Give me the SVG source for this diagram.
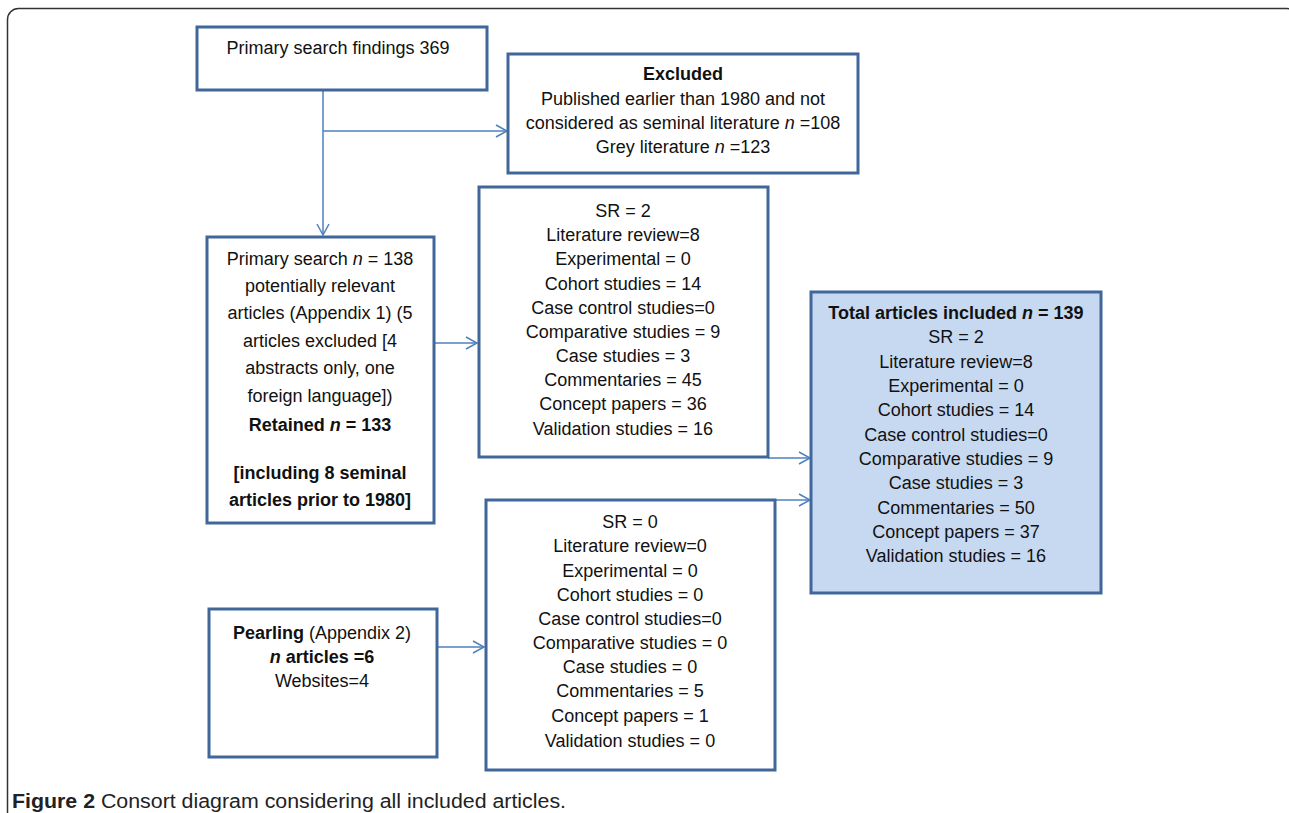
<svg xmlns="http://www.w3.org/2000/svg" width="1289" height="813" viewBox="0 0 1289 813">
<style>
.box{fill:#ffffff;stroke:#41679a;stroke-width:3}
.tot{fill:#c6d9f1;stroke:#41679a;stroke-width:3}
.t{font-family:"Liberation Sans",Arial,sans-serif;font-size:18px;fill:#111;text-anchor:middle}
.b{font-weight:bold}
.i{font-style:italic}
.con{fill:none;stroke:#4f81bd;stroke-width:1.5}
.cap{font-family:"Liberation Sans",Arial,sans-serif;font-size:20px;fill:#222}
</style>
<defs>
<marker id="arr" markerWidth="14" markerHeight="14" refX="12" refY="7" orient="auto" markerUnits="userSpaceOnUse">
<path d="M1,1 L12,7 L1,13" fill="none" stroke="#4f81bd" stroke-width="1.5"/>
</marker>
</defs>
<rect x="7.5" y="8.5" width="1290" height="830" rx="11" fill="#fff" stroke="#333" stroke-width="1.5"/>
<g id="connectors">
<path class="con" d="M323,90 V235" marker-end="url(#arr)"/>
<path class="con" d="M323,131 H507" marker-end="url(#arr)"/>
<path class="con" d="M430,343 H477" marker-end="url(#arr)"/>
<path class="con" d="M768,458 H810" marker-end="url(#arr)"/>
<path class="con" d="M775,500 H810" marker-end="url(#arr)"/>
<path class="con" d="M437,647 H484" marker-end="url(#arr)"/>
</g>
<g id="n-findings">
<rect class="box" x="197" y="27" width="290" height="63"/>
<text class="t" x="338" y="53.5">Primary search findings 369</text>
</g>
<g id="n-excluded">
<rect class="box" x="508" y="54" width="350" height="119"/>
<text class="t b" x="683" y="79.5">Excluded</text>
<text class="t" x="683" y="104.5">Published earlier than 1980 and not</text>
<text class="t" x="683" y="128.5">considered as seminal literature <tspan class="i">n</tspan> =108</text>
<text class="t" x="683" y="152.5">Grey literature <tspan class="i">n</tspan> =123</text>
</g>
<g id="n-primary">
<rect class="box" x="207" y="237" width="227" height="286"/>
<text class="t" x="320" y="264.5">Primary search <tspan class="i">n</tspan> = 138</text>
<text class="t" x="320" y="291.5">potentially relevant</text>
<text class="t" x="320" y="318.5">articles (Appendix 1) (5</text>
<text class="t" x="320" y="346.5">articles excluded [4</text>
<text class="t" x="320" y="373.5">abstracts only, one</text>
<text class="t" x="320" y="401.5">foreign language])</text>
<text class="t b" x="320" y="430.5">Retained <tspan class="i">n</tspan> = 133</text>
<text class="t b" x="320" y="478.5">[including 8 seminal</text>
<text class="t b" x="320" y="505.5">articles prior to 1980]</text>
</g>
<g id="n-sr2">
<rect class="box" x="479" y="187" width="289" height="270"/>
<text class="t" x="623" y="216.5">SR = 2</text>
<text class="t" x="623" y="240.5">Literature review=8</text>
<text class="t" x="623" y="264.5">Experimental = 0</text>
<text class="t" x="623" y="289.5">Cohort studies = 14</text>
<text class="t" x="623" y="313.5">Case control studies=0</text>
<text class="t" x="623" y="337.5">Comparative studies = 9</text>
<text class="t" x="623" y="361.5">Case studies = 3</text>
<text class="t" x="623" y="385.5">Commentaries = 45</text>
<text class="t" x="623" y="409.5">Concept papers = 36</text>
<text class="t" x="623" y="434.5">Validation studies = 16</text>
</g>
<g id="n-total">
<rect class="tot" x="811" y="292" width="290" height="301"/>
<text class="t b" x="956" y="318.5">Total articles included <tspan class="i">n</tspan> = 139</text>
<text class="t" x="956" y="342.5">SR = 2</text>
<text class="t" x="956" y="367.5">Literature review=8</text>
<text class="t" x="956" y="391.5">Experimental = 0</text>
<text class="t" x="956" y="415.5">Cohort studies = 14</text>
<text class="t" x="956" y="440.5">Case control studies=0</text>
<text class="t" x="956" y="464.5">Comparative studies = 9</text>
<text class="t" x="956" y="488.5">Case studies = 3</text>
<text class="t" x="956" y="513.5">Commentaries = 50</text>
<text class="t" x="956" y="537.5">Concept papers = 37</text>
<text class="t" x="956" y="561.5">Validation studies = 16</text>
</g>
<g id="n-sr0">
<rect class="box" x="486" y="500" width="289" height="270"/>
<text class="t" x="630" y="527.5">SR = 0</text>
<text class="t" x="630" y="551.5">Literature review=0</text>
<text class="t" x="630" y="576.5">Experimental = 0</text>
<text class="t" x="630" y="600.5">Cohort studies = 0</text>
<text class="t" x="630" y="624.5">Case control studies=0</text>
<text class="t" x="630" y="648.5">Comparative studies = 0</text>
<text class="t" x="630" y="672.5">Case studies = 0</text>
<text class="t" x="630" y="696.5">Commentaries = 5</text>
<text class="t" x="630" y="721.5">Concept papers = 1</text>
<text class="t" x="630" y="746.5">Validation studies = 0</text>
</g>
<g id="n-pearling">
<rect class="box" x="209" y="609" width="228" height="148"/>
<text class="t" x="322" y="638.5"><tspan class="b">Pearling</tspan> (Appendix 2)</text>
<text class="t b" x="322" y="662.5"><tspan class="i">n</tspan> articles =6</text>
<text class="t" x="322" y="686.5">Websites=4</text>
</g>
<text class="cap" x="12" y="808" textLength="554" lengthAdjust="spacingAndGlyphs"><tspan font-weight="bold">Figure 2</tspan> Consort diagram considering all included articles.</text>
</svg>
